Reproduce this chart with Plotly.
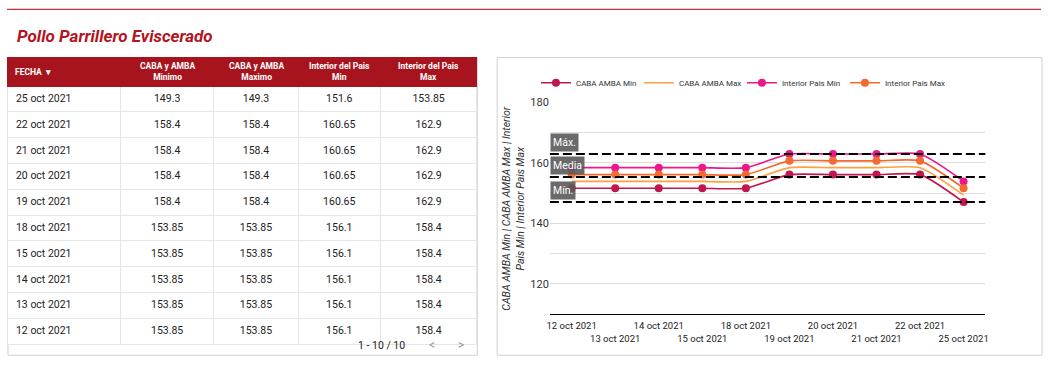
import plotly.graph_objects as go

# ---------------- data ----------------
table_dates = ["25 oct 2021", "22 oct 2021", "21 oct 2021", "20 oct 2021", "19 oct 2021",
               "18 oct 2021", "15 oct 2021", "14 oct 2021", "13 oct 2021", "12 oct 2021"]
table_caba_min = [149.3, 158.4, 158.4, 158.4, 158.4, 153.85, 153.85, 153.85, 153.85, 153.85]
table_caba_max = [149.3, 158.4, 158.4, 158.4, 158.4, 153.85, 153.85, 153.85, 153.85, 153.85]
table_int_min = [151.6, 160.65, 160.65, 160.65, 160.65, 156.1, 156.1, 156.1, 156.1, 156.1]
table_int_max = [153.85, 162.9, 162.9, 162.9, 162.9, 158.4, 158.4, 158.4, 158.4, 158.4]
table_headers = ["FECHA  \u25be", "CABA y AMBA<br>Minimo", "CABA y AMBA<br>Maximo",
                 "Interior del Pais<br>Min", "Interior del Pais<br>Max"]

chart_dates = ["12 oct 2021", "13 oct 2021", "14 oct 2021", "15 oct 2021", "18 oct 2021",
               "19 oct 2021", "20 oct 2021", "21 oct 2021", "22 oct 2021", "25 oct 2021"]
caba_amba_min = [151.6, 151.6, 151.6, 151.6, 151.6, 156.1, 156.1, 156.1, 156.1, 147.0]
caba_amba_max = [153.85, 153.85, 153.85, 153.85, 153.85, 158.4, 158.4, 158.4, 158.4, 149.3]
interior_pais_min = [158.4, 158.4, 158.4, 158.4, 158.4, 162.9, 162.9, 162.9, 162.9, 153.85]
interior_pais_max = [156.1, 156.1, 156.1, 156.1, 156.1, 160.65, 160.65, 160.65, 160.65, 151.6]
media_value = 155.3
y_ticks = [120, 140, 160, 180]

W, H = 1054, 368
def px(x):
    return min(1.0, max(0.0, x / W))
def py(y):
    return min(1.0, max(0.0, 1 - y / H))

FONT = "Roboto"
fig = go.Figure()

# ---------------- table ----------------
col_widths = [113, 93, 85, 82, 97]
TX0, TX1 = 5, 477
TTOP = 52.5
fig.add_trace(go.Table(
    domain=dict(x=[px(TX0), px(TX1)], y=[py(357), py(TTOP)]),
    columnwidth=col_widths,
    header=dict(
        values=[""] * 5,
        fill_color="#a8141e",
        line_color="#a8141e",
        height=28.5,
        font=dict(family=FONT, size=8, color="white"),
    ),
    cells=dict(
        values=[table_dates, table_caba_min, table_caba_max, table_int_min, table_int_max],
        fill_color="white",
        line_color="#e6e6e6",
        align=["left", "center", "center", "center", "center"],
        font=dict(family=FONT, size=10.5, color="#222222"),
        height=25.8,
    ),
))

# header labels (two-line, bold, white)
edges = [TX0]
for w in col_widths:
    edges.append(edges[-1] + w * (TX1 - TX0) / sum(col_widths))
for i, txt in enumerate(table_headers):
    if i == 0:
        fig.add_annotation(xref="paper", yref="paper", x=px(10), y=py(67.5),
                           xanchor="left", yanchor="middle", text="<b>" + txt + "</b>",
                           showarrow=False, font=dict(family=FONT, size=8.5, color="white"))
    else:
        fig.add_annotation(xref="paper", yref="paper", x=px((edges[i] + edges[i + 1]) / 2),
                           y=py(67), xanchor="center", yanchor="middle",
                           text="<b>" + txt + "</b>", showarrow=False, align="center",
                           font=dict(family=FONT, size=8.5, color="white"))

# ---------------- line chart ----------------
series = [
    ("CABA AMBA Min", caba_amba_min, "#c0174f", "lines+markers"),
    ("CABA AMBA Max", caba_amba_max, "#ffa040", "lines"),
    ("Interior Pais Min", interior_pais_min, "#ec178b", "lines+markers"),
    ("Interior Pais Max", interior_pais_max, "#f4692e", "lines+markers"),
]
for name, vals, col, mode in series:
    fig.add_trace(go.Scatter(
        x=chart_dates, y=vals, name=name, mode=mode,
        line=dict(color=col, width=1.6, shape="spline", smoothing=0.6),
        marker=dict(color=col, size=8),
    ))

all_vals = caba_amba_min + caba_amba_max + interior_pais_min + interior_pais_max
ref_lines = [("Máx.", max(all_vals)), ("Media", media_value), ("Mín.", min(all_vals))]
for label, v in ref_lines:
    fig.add_shape(type="line", xref="x domain", yref="y", x0=0, x1=1, y0=v, y1=v,
                  line=dict(color="black", width=2, dash="9px,4px"))
    fig.add_annotation(xref="x domain", yref="y", x=0, y=v, xanchor="left", yanchor="bottom",
                       yshift=2, text=label, showarrow=False,
                       bgcolor="rgba(90,90,90,0.9)", borderpad=2,
                       font=dict(family=FONT, size=10.5, color="white"))

ticktext = [d if i % 2 == 0 else "<br>" + d for i, d in enumerate(chart_dates)]

fig.update_layout(
    width=W, height=H, autosize=False,
    margin=dict(l=0, r=0, t=0, b=0),
    paper_bgcolor="white", plot_bgcolor="white",
    font=dict(family=FONT, color="#333333"),
    xaxis=dict(domain=[px(550), px(988)], type="category", categoryorder="array",
               categoryarray=chart_dates, range=[-0.5, 9.5],
               tickvals=chart_dates, ticktext=ticktext, showgrid=False,
               showline=True, linecolor="black", linewidth=1, ticks="",
               ticklabelstandoff=3,
               tickfont=dict(size=9.5, color="#222222"), tickangle=0),
    yaxis=dict(domain=[py(313), py(98)], range=[110, 180], tickvals=y_ticks,
               showgrid=True, gridcolor="#dddddd", gridwidth=1, zeroline=False,
               tickfont=dict(size=11, color="#333333"), ticks="",
               minor=dict(dtick=10, tick0=110, showgrid=True, gridcolor="#dddddd")),
    legend=dict(orientation="h", x=px(536), y=py(78), xanchor="left", yanchor="middle",
                font=dict(family=FONT, size=8, color="#333333"), itemwidth=30,
                entrywidth=58, entrywidthmode="pixels",
                bgcolor="rgba(0,0,0,0)", tracegroupgap=0),
    showlegend=True,
)

# y-axis title (two lines, italic)
fig.add_annotation(xref="paper", yref="paper", x=px(514), y=py(206),
                   xanchor="center", yanchor="middle",
                   text="<i>CABA AMBA Min | CABA AMBA Max | Interior<br>Pais Min | Interior Pais Max</i>",
                   textangle=-90, showarrow=False, align="center",
                   font=dict(family=FONT, size=10.5, color="#333333"))

# page title, top line, cards
fig.add_annotation(xref="paper", yref="paper", x=px(12), y=py(30), xanchor="left",
                   yanchor="middle", text="<b><i>Pollo Parrillero Eviscerado</i></b>",
                   showarrow=False, font=dict(family=FONT, size=17, color="#b3141e"))
fig.add_shape(type="line", xref="paper", yref="paper", x0=px(4), x1=px(1044),
              y0=py(3.5), y1=py(3.5), line=dict(color="#d0303c", width=1.3))
for x0, x1 in [(TX0, TX1), (497, 1045)]:
    fig.add_shape(type="rect", xref="paper", yref="paper", x0=px(x0), x1=px(x1),
                  y0=py(355), y1=py(TTOP), line=dict(color="#d0d0d0", width=1),
                  fillcolor="rgba(0,0,0,0)", layer="below")

# pagination
fig.add_annotation(xref="paper", yref="paper", x=px(381), y=py(345), xanchor="center",
                   yanchor="middle", text="1 - 10 / 10", showarrow=False,
                   font=dict(family=FONT, size=10.5, color="#222222"))
fig.add_annotation(xref="paper", yref="paper", x=px(431), y=py(345), xanchor="center",
                   yanchor="middle", text="&lt;", showarrow=False,
                   font=dict(family=FONT, size=12, color="#999999"))
fig.add_annotation(xref="paper", yref="paper", x=px(461), y=py(345), xanchor="center",
                   yanchor="middle", text="&gt;", showarrow=False,
                   font=dict(family=FONT, size=12, color="#999999"))

fig.write_html("out.html", config={"displayModeBar": False},
               post_script="document.body.style.margin='0';document.body.style.overflow='hidden';")
